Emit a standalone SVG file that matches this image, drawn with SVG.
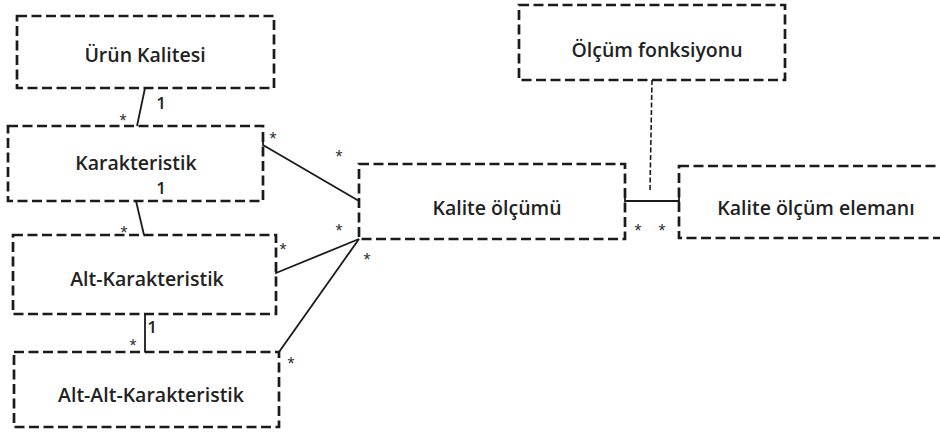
<svg xmlns="http://www.w3.org/2000/svg" width="940" height="432" viewBox="0 0 940 432">
<style>
.box{fill:#fff;stroke:#1a1a1a;stroke-width:2.7;stroke-dasharray:10 4.5}
.lbl{font-family:"Open Sans","Liberation Sans",sans-serif;font-size:19.5px;font-weight:600;fill:#222;text-anchor:middle}
.m{font-family:"Liberation Sans",sans-serif;font-size:18px;fill:#333;text-anchor:middle}
.one{font-family:"Open Sans","Liberation Sans",sans-serif;font-size:17px;font-weight:600;fill:#222;text-anchor:middle}
.ln{stroke:#1a1a1a;stroke-width:1.8;fill:none}
.dl{stroke:#1a1a1a;stroke-width:1.6;fill:none;stroke-dasharray:5 2.5}
</style>
<g id="urun-kalitesi">
<rect class="box" x="17" y="16" width="257" height="72"/>
<text class="lbl" x="145" y="62">Ürün Kalitesi</text>
</g>
<g id="karakteristik">
<rect class="box" x="8" y="126" width="255" height="75"/>
<text class="lbl" x="136" y="170">Karakteristik</text>
</g>
<g id="alt-karakteristik">
<rect class="box" x="13" y="235" width="263" height="79"/>
<text class="lbl" x="147" y="286">Alt-Karakteristik</text>
</g>
<g id="alt-alt-karakteristik">
<rect class="box" x="14" y="352" width="265" height="75"/>
<text class="lbl" x="151" y="402">Alt-Alt-Karakteristik</text>
</g>
<g id="kalite-olcumu">
<rect class="box" x="359" y="164" width="266" height="75"/>
<text class="lbl" x="497" y="215">Kalite ölçümü</text>
</g>
<g id="kalite-olcum-elemani">
<rect class="box" x="679" y="166" width="270" height="72"/>
<text class="lbl" x="816" y="215">Kalite ölçüm elemanı</text>
</g>
<g id="olcum-fonksiyonu">
<rect class="box" x="519" y="5" width="266" height="75"/>
<text class="lbl" x="657" y="57">Ölçüm fonksiyonu</text>
</g>
<g id="connectors">
<line class="ln" x1="145" y1="88" x2="137" y2="126"/>
<line class="ln" x1="136" y1="201" x2="144" y2="235"/>
<line class="ln" x1="145" y1="314" x2="145" y2="352"/>
<polyline class="ln" points="263,140 263,145 359,201"/>
<polyline class="ln" points="276,268 276,273 359,239"/>
<line class="ln" x1="279" y1="352" x2="359" y2="239"/>
<polyline class="ln" points="625,196 625,201 679,201 679,196"/>
<line class="dl" x1="652" y1="80" x2="650" y2="190"/>
<text class="one" x="161" y="109">1</text>
<text class="m" x="123" y="127">*</text>
<text class="one" x="161" y="194">1</text>
<text class="m" x="124" y="239">*</text>
<text class="one" x="152" y="333">1</text>
<text class="m" x="133" y="352">*</text>
<text class="m" x="273" y="145">*</text>
<text class="m" x="339" y="163">*</text>
<text class="m" x="283" y="256">*</text>
<text class="m" x="339" y="237">*</text>
<text class="m" x="291" y="370">*</text>
<text class="m" x="367" y="266">*</text>
<text class="m" x="638" y="237">*</text>
<text class="m" x="662" y="237">*</text>
</g>
</svg>
